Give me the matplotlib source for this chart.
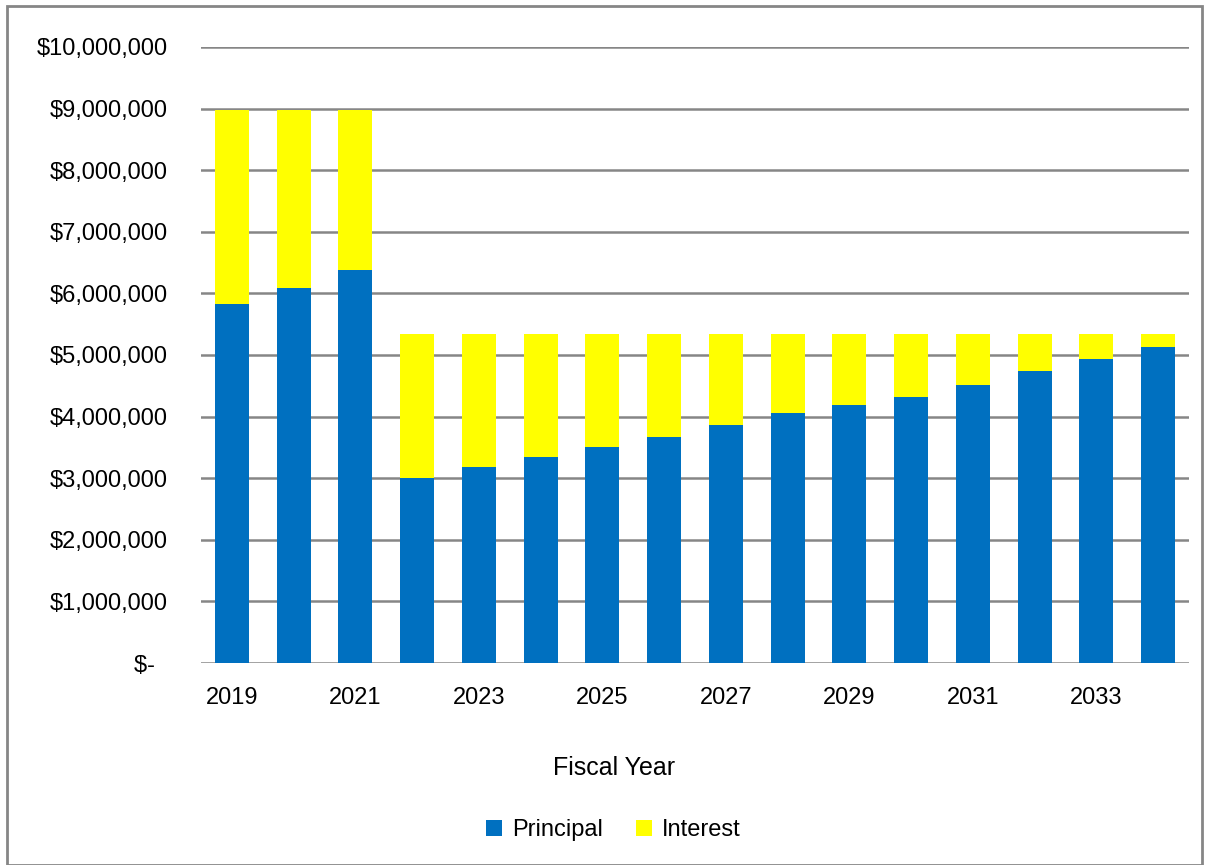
# Principal / Interest debt service by fiscal year, stacked bars

import matplotlib
matplotlib.use("Agg")
import matplotlib.pyplot as plt
from matplotlib.ticker import FuncFormatter
from matplotlib.patches import Rectangle

# Data (dollars)
years = [2019, 2020, 2021, 2022, 2023, 2024, 2025, 2026,
         2027, 2028, 2029, 2030, 2031, 2032, 2033, 2034]
principal = [5830000, 6090000, 6380000, 3010000, 3180000, 3340000, 3500000, 3670000,
             3860000, 4060000, 4190000, 4320000, 4510000, 4740000, 4940000, 5130000]
interest = [3150000, 2890000, 2600000, 2330000, 2160000, 2000000, 1840000, 1670000,
            1480000, 1280000, 1150000, 1020000, 830000, 600000, 400000, 210000]
year_labels = [str(y) if i % 2 == 0 else "" for i, y in enumerate(years)]

plt.rcParams["font.family"] = ["Liberation Sans", "DejaVu Sans"]

fig = plt.figure(figsize=(12.07, 8.65), dpi=100)
ax = fig.add_axes([0.1665, 0.2335, 0.8185, 0.7122])

x = range(len(years))
ax.bar(x, principal, width=0.55, color="#0070C0", label="Principal", zorder=3)
ax.bar(x, interest, width=0.55, bottom=principal, color="#FFFF00", label="Interest", zorder=3)

ax.set_xlim(-0.5, len(years) - 0.5)
ax.set_ylim(0, 10000000)
ax.set_yticks(range(0, 10000001, 1000000))

def money(v, pos):
    if v == 0:
        return "$-  "
    return "${:,.0f}".format(v)

ax.yaxis.set_major_formatter(FuncFormatter(money))
ax.set_xticks(list(x))
ax.set_xticklabels(year_labels)
ax.tick_params(axis="both", length=0, labelsize=17)
ax.tick_params(axis="y", pad=24)
ax.tick_params(axis="x", pad=17)
ax.grid(axis="y", color="#868686", linewidth=1.8, zorder=0)
for s in ax.spines.values():
    s.set_visible(False)

fig.text(0.5087, 0.112, "Fiscal Year", fontsize=18, ha="center", va="center")

fig.legend(loc="center", bbox_to_anchor=(0.508, 0.04), ncol=2, frameon=False,
           fontsize=17, handlelength=0.7, handleheight=0.7, columnspacing=1.4,
           handletextpad=0.4)

# outer chart border
fig.patches.append(Rectangle((0.006, 0.0), 0.99, 0.993, transform=fig.transFigure,
                             fill=False, edgecolor="#868686", linewidth=2))

fig.savefig("out.png", dpi=100)
